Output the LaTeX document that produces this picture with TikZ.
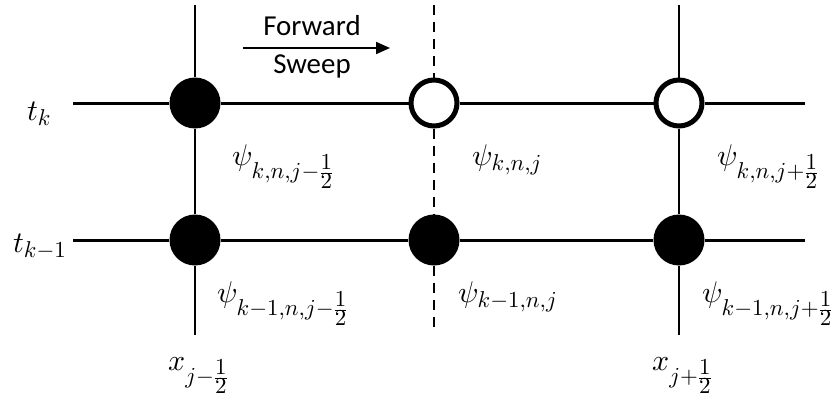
\documentclass[tikz,border=0pt]{standalone}
\usepackage{fontspec}
\setmainfont{Carlito}
\usetikzlibrary{arrows.meta, positioning}
\DeclareFontShape{OML}{cmm}{m}{it}{<-8>cmmi7<8->cmmi10}{}
\DeclareFontShape{OMS}{cmsy}{m}{n}{<-8>cmsy7<8->cmsy10}{}
\DeclareFontShape{OT1}{cmr}{m}{n}{<-8>cmr7<8->cmr10}{}
\DeclareMathSizes{30}{30}{23}{18}
\newcommand{\hlf}{\frac{\scriptstyle 1}{\scriptstyle 2}}

\begin{document}
\begin{tikzpicture}[
    x=1bp, y=1bp,
    grid/.style={line width=3bp, color=black},
    dot/.style={circle, draw=none, fill=black, minimum size=51bp, inner sep=0pt},
    hollow/.style={circle, draw=black, line width=5bp, fill=white, minimum size=46bp, inner sep=0pt},
    lbl/.style={font=\fontsize{30}{36}\selectfont, inner sep=0pt, anchor=base west},
    ptr/.style={line width=2bp, -{Triangle[length=14bp, width=12bp]}},
    txt/.style={font=\fontsize{29}{34}\selectfont, inner sep=0pt, anchor=base}
]
\useasboundingbox (0,0) rectangle (837,405);

% ends of the grid lines
\coordinate (tkL) at (73,302);
\coordinate (tkR) at (805,302);
\coordinate (tmL) at (73,165);
\coordinate (tmR) at (805,165);
\coordinate (xlT) at (195,400);
\coordinate (xlB) at (195,70);
\coordinate (xmT) at (434,400);
\coordinate (xmB) at (434,73);
\coordinate (xrT) at (679,400);
\coordinate (xrB) at (679,70);

% grid points
\node[dot] (pkl) at (195,302) {};
\node[hollow] (pkm) at (434,302) {};
\node[hollow] (pkr) at (679,302) {};
\node[dot] (pml) at (195,165) {};
\node[dot] (pmm) at (434,165) {};
\node[dot] (pmr) at (679,165) {};

\draw[grid] (tkL) -- (pkl) -- (pkm) -- (pkr) -- (tkR);
\draw[grid] (tmL) -- (pml) -- (pmm) -- (pmr) -- (tmR);
\draw[line width=2.5bp] (xlT) -- (pkl) -- (pml) -- (xlB);
\draw[line width=2.5bp] (xrT) -- (pkr) -- (pmr) -- (xrB);
\draw[line width=2.5bp, dash pattern=on 10bp off 7bp] (xmT) -- (pkm) -- (pmm) -- (xmB);

% sweep direction
\coordinate (swA) at (243,357);
\coordinate (swB) at (390,357);
\draw[ptr] (swA) -- (swB);
\node[txt] (fwd) at (312,370) {Forward};
\node[txt] (swp) at (312,332) {Sweep};

% axis labels
\node[lbl] (tk) at (27,285) {$t_k$};
\node[lbl] (tm) at (13,153) {$t_{k-1}$};
\node[lbl] (xl) at (168,35) {$x_{j-\hlf}$};
\node[lbl] (xr) at (652,35) {$x_{j+\hlf}$};

% cell values
\node[lbl] (psikl) at (232,240) {$\psi_{k,n,j-\hlf}$};
\node[lbl] (psikm) at (472,240) {$\psi_{k,n,j}$};
\node[lbl] (psikr) at (717,240) {$\psi_{k,n,j+\hlf}$};
\node[lbl] (psiml) at (217,103) {$\psi_{k-1,n,j-\hlf}$};
\node[lbl] (psimm) at (458,103) {$\psi_{k-1,n,j}$};
\node[lbl] (psimr) at (702,103) {$\psi_{k-1,n,j+\hlf}$};
\end{tikzpicture}
\end{document}
